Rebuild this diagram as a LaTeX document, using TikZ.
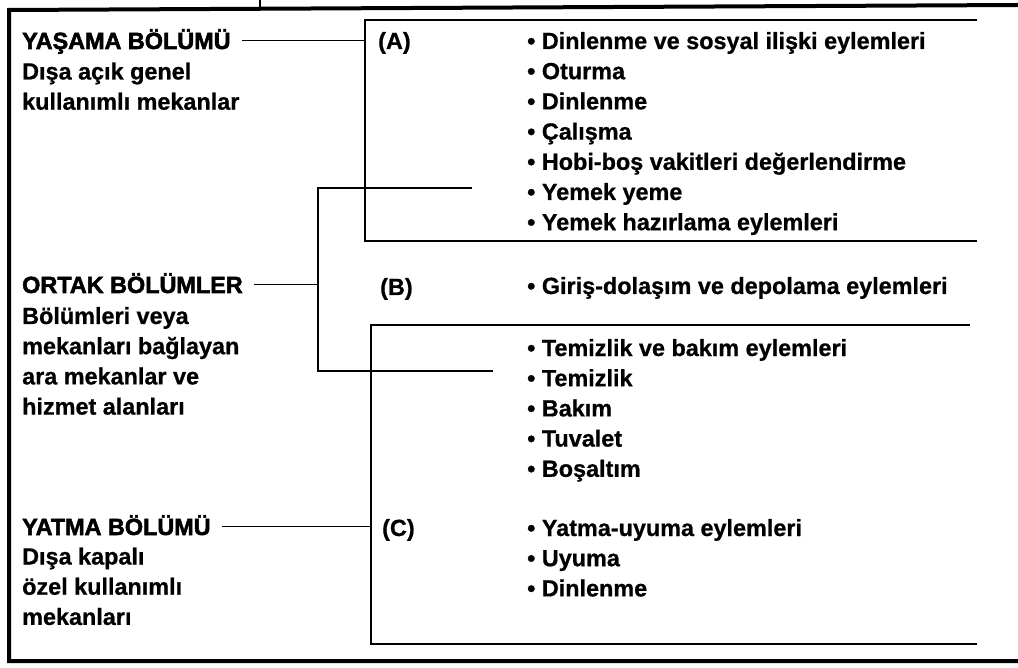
\documentclass[tikz,border=0pt]{standalone}
\usepackage{fontspec}
\setmainfont{Liberation Sans}[BoldFeatures={FakeBold=0.8}]
\newfontfamily\headfont{Liberation Sans}[FakeBold=2.2]

\tikzset{
  txt/.style={anchor=base west, inner sep=0pt, align=left,
    font=\fontsize{23.4}{30.2}\selectfont\bfseries},
  head/.style={txt, font=\fontsize{23.4}{30.2}\selectfont\headfont\bfseries,
    text height=17pt, text depth=0pt},
  rule/.style={line width=1.8pt},
  frame/.style={line width=4pt},
  link/.style={rule, shorten <=11pt}
}

\begin{document}
\begin{tikzpicture}[x=1pt,y=-1pt]
		\useasboundingbox (0,0) rectangle (1018,668);
		% outer frame
		\coordinate (ftr) at (1018,5);
		\coordinate (ftl) at (9,10);
		\coordinate (fbl) at (9,661);
		\coordinate (fbr) at (1018,661);
		\coordinate (tick) at (260,0);
		\draw[frame] (ftr) -- (ftl) -- (fbl) -- (fbr);
		\draw[rule] (tick) -- (tick |- ftl);
		% brackets
		\coordinate (atr) at (977,20);
		\coordinate (atl) at (365,20);
		\coordinate (abl) at (365,241);
		\coordinate (abr) at (977,241);
		\coordinate (otr) at (472,188);
		\coordinate (otl) at (318,188);
		\coordinate (obl) at (318,371);
		\coordinate (obr) at (493,371);
		\coordinate (ctr) at (970,325);
		\coordinate (ctl) at (371,325);
		\coordinate (cbl) at (371,644);
		\coordinate (cbr) at (977,644);
		\draw[rule] (atr) -- (atl) -- (abl) -- (abr);
		\draw[rule] (otr) -- (otl) -- (obl) -- (obr);
		\draw[rule] (ctr) -- (ctl) -- (cbl) -- (cbr);
		% left side (base = last line)
		\draw (22,49) node [head] (yasama) {YAŞAMA BÖLÜMÜ};
		\draw (22,109.7) node [txt] (yasamanot) {Dışa açık genel\\kullanımlı mekanlar};
		\draw (22,293) node [head] (ortak) {ORTAK BÖLÜMLER};
		\draw (22,414.6) node [txt] (ortaknot) {Bölümleri veya\\mekanları bağlayan\\ara mekanlar ve\\hizmet alanları};
		\draw (22,535) node [head] (yatma) {YATMA BÖLÜMÜ};
		\draw (22,624.9) node [txt] (yatmanot) {Dışa kapalı\\özel kullanımlı\\mekanları};
		% letters
		\draw (378,49) node [txt] (a) {(A)};
		\draw (380,295) node [txt] (b) {(B)};
		\draw (382,536) node [txt] (c) {(C)};
		% lists
		\draw (527,230.2) node [txt] (alist) {• Dinlenme ve sosyal ilişki eylemleri\\• Oturma\\• Dinlenme\\• Çalışma\\• Hobi-boş vakitleri değerlendirme\\• Yemek yeme\\• Yemek hazırlama eylemleri};
		\draw (527,294) node [txt] (blist) {• Giriş-dolaşım ve depolama eylemleri};
		\draw (527,476.8) node [txt] (clist) {• Temizlik ve bakım eylemleri\\• Temizlik\\• Bakım\\• Tuvalet\\• Boşaltım};
		\draw (527,596.4) node [txt] (dlist) {• Yatma-uyuma eylemleri\\• Uyuma\\• Dinlenme};
		\path[link]
			(yasama.east) edge (yasama.east -| atl)
			(ortak.east) edge (ortak.east -| otl)
			(yatma.east) edge (yatma.east -| ctl);
	\end{tikzpicture}
\end{document}
